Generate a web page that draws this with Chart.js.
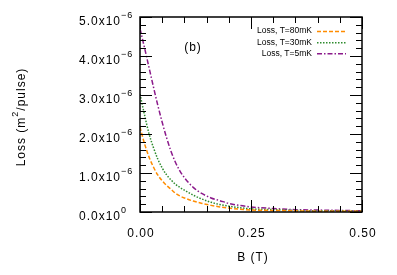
<!DOCTYPE html>
<html>
<head>
<meta charset="utf-8">
<script src="https://cdn.jsdelivr.net/npm/chart.js@4"></script>
<style>
  html, body { margin: 0; padding: 0; background: #fff; }
  #wrap { width: 397px; height: 275px; }
</style>
</head>
<body>
<div id="wrap"><canvas id="lossChart"></canvas></div>
<script>
// magnetic field (T)
const bField = [0, 0.01, 0.02, 0.03, 0.04, 0.05, 0.06, 0.07, 0.08, 0.09, 0.10,
  0.12, 0.14, 0.16, 0.18, 0.20, 0.25, 0.30, 0.35, 0.40, 0.45, 0.50];

// loss in units of 1e-6 m^2/pulse
const loss80mK = [2.18, 1.76, 1.42, 1.16, 0.95, 0.80, 0.68, 0.58, 0.48, 0.41, 0.36,
  0.28, 0.22, 0.17, 0.13, 0.10, 0.05, 0.04, 0.03, 0.02, 0.02, 0.02];
const loss30mK = [3.02, 2.50, 2.02, 1.66, 1.36, 1.13, 0.95, 0.82, 0.71, 0.63, 0.56,
  0.43, 0.33, 0.25, 0.19, 0.15, 0.08, 0.06, 0.04, 0.03, 0.03, 0.02];
const loss5mK = [4.70, 4.22, 3.72, 3.22, 2.74, 2.30, 1.90, 1.55, 1.27, 1.05, 0.88,
  0.63, 0.47, 0.36, 0.29, 0.22, 0.13, 0.09, 0.06, 0.05, 0.04, 0.03];

const seriesLabels = ['Loss, T=80mK', 'Loss, T=30mK', 'Loss, T=5mK'];
const xTickLabels = ['0.00', '0.25', '0.50'];
const xTickValues = [0, 0.25, 0.5];
const yTickValues = [0, 1, 2, 3, 4, 5];

const colors = ['#ff8c00', '#2e8b2e', '#8b1a8b'];
const dashes = [[4, 2], [1.5, 1.5], [5, 2, 1.5, 2]];

function toPoints(values) {
  return bField.map((b, i) => ({ x: b, y: values[i] }));
}

const FONT = '"Liberation Sans", Arial, sans-serif';

// draws frame, inward ticks, labels and key like the gnuplot original
const frameAndText = {
  id: 'frameAndText',
  afterDraw(chart) {
    const ctx = chart.ctx;
    const area = chart.chartArea;
    const xs = chart.scales.x;
    const ys = chart.scales.y;
    ctx.save();

    // ticks
    ctx.strokeStyle = '#000';
    ctx.lineWidth = 1;
    ctx.beginPath();
    for (let k = 0; k <= 10; k++) {
      const v = k * 0.05;
      const px = Math.round(xs.getPixelForValue(v)) + 0.5;
      const len = (k % 5 === 0) ? 12 : 6;
      ctx.moveTo(px, area.bottom); ctx.lineTo(px, area.bottom - len);
      ctx.moveTo(px, area.top); ctx.lineTo(px, area.top + len);
    }
    for (let k = 0; k <= 25; k++) {
      const v = k * 0.2;
      const py = Math.round(ys.getPixelForValue(v)) + 0.5;
      const len = (k % 5 === 0) ? 12 : 6;
      ctx.moveTo(area.left, py); ctx.lineTo(area.left + len, py);
      ctx.moveTo(area.right, py); ctx.lineTo(area.right - len, py);
    }
    ctx.stroke();

    // frame
    ctx.lineWidth = 1.5;
    ctx.strokeRect(area.left, area.top, area.right - area.left, area.bottom - area.top);

    ctx.fillStyle = '#000';
    ctx.letterSpacing = '1px';

    // y tick labels  (mantissa x10^exp)
    yTickValues.forEach(v => {
      const py = ys.getPixelForValue(v);
      const exp = v === 0 ? '0' : '\u22126';
      ctx.font = '12px ' + FONT;
      ctx.textAlign = 'right';
      ctx.textBaseline = 'alphabetic';
      ctx.fillText(v.toFixed(1) + 'x10', 121, py + 8);
      ctx.font = '9px ' + FONT;
      ctx.textAlign = 'left';
      ctx.fillText(exp, 121, py + 0.5);
    });

    // x tick labels
    ctx.font = '12px ' + FONT;
    ctx.textAlign = 'center';
    xTickValues.forEach((v, i) => {
      ctx.fillText(xTickLabels[i], xs.getPixelForValue(v) + 1, 236.5);
    });

    // axis titles
    ctx.fillText('B (T)', 253, 260.5);

    ctx.save();
    ctx.translate(25, 117);
    ctx.rotate(-Math.PI / 2);
    ctx.textAlign = 'left';
    const pre = 'Loss (m', sup = '2', post = '/pulse)';
    ctx.font = '12px ' + FONT;
    const w1 = ctx.measureText(pre).width;
    const w3 = ctx.measureText(post).width;
    ctx.font = '9px ' + FONT;
    const w2 = ctx.measureText(sup).width;
    let x0 = -(w1 + w2 + w3) / 2;
    ctx.font = '12px ' + FONT;
    ctx.fillText(pre, x0, 0);
    ctx.font = '9px ' + FONT;
    ctx.fillText(sup, x0 + w1, -7);
    ctx.font = '12px ' + FONT;
    ctx.fillText(post, x0 + w1 + w2, 0);
    ctx.restore();

    // panel tag
    ctx.font = '12px ' + FONT;
    ctx.textAlign = 'center';
    ctx.textBaseline = 'middle';
    ctx.fillText('(b)', 193, 47.5);

    // key
    ctx.letterSpacing = '0px';
    ctx.font = '8.5px ' + FONT;
    ctx.textAlign = 'right';
    ctx.textBaseline = 'middle';
    const rows = [31, 42.3, 53.3];
    seriesLabels.forEach((lab, i) => {
      ctx.fillStyle = '#000';
      ctx.fillText(lab, 312, rows[i]);
      ctx.strokeStyle = colors[i];
      ctx.lineWidth = 1.5;
      ctx.setLineDash(dashes[i]);
      ctx.beginPath();
      ctx.moveTo(317, rows[i] + 0.5);
      ctx.lineTo(346, rows[i] + 0.5);
      ctx.stroke();
      ctx.setLineDash([]);
    });

    ctx.restore();
  }
};

const datasets = [loss80mK, loss30mK, loss5mK].map((vals, i) => ({
  label: seriesLabels[i],
  data: toPoints(vals),
  borderColor: colors[i],
  borderWidth: 1.5,
  borderDash: dashes[i],
  pointRadius: 0,
  fill: false,
  cubicInterpolationMode: 'monotone'
}));

new Chart(document.getElementById('lossChart').getContext('2d'), {
  type: 'line',
  data: { datasets: datasets },
  options: {
    responsive: true,
    maintainAspectRatio: false,
    animation: false,
    layout: { padding: { left: 140, right: 35, top: 17, bottom: 63 } },
    scales: {
      x: { type: 'linear', min: 0, max: 0.5, display: false },
      y: { type: 'linear', min: 0, max: 5, display: false }
    },
    plugins: {
      legend: { display: false },
      tooltip: { enabled: false }
    }
  },
  plugins: [frameAndText]
});
</script>
</body>
</html>
